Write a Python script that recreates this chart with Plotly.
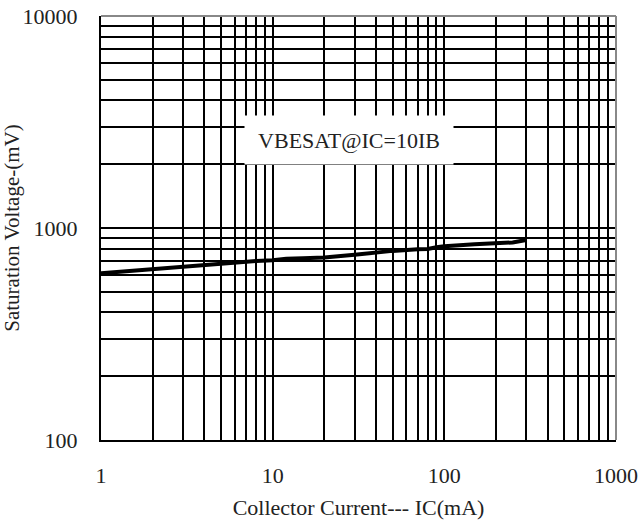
import math
import plotly.graph_objects as go

ic_ma = [1, 2, 3, 4, 5, 7, 8, 10, 12, 15, 20, 30, 40, 50, 70, 80, 90, 100, 150, 200, 250, 300]
vbesat_mv = [612, 640, 655, 672, 680, 693, 698, 705, 717, 720, 725, 748, 770, 780, 793, 797, 812, 820, 838, 852, 855, 878]

x_decades = [1, 10, 100, 1000]
y_decades = [100, 1000, 10000]
x_tickvals = [m * d for d in [1, 10, 100] for m in range(1, 10)] + [1000]
y_tickvals = [m * d for d in [100, 1000] for m in range(1, 10)] + [10000]
x_ticktext = [str(v) if v in x_decades else "" for v in x_tickvals]
y_ticktext = [str(v) if v in y_decades else "" for v in y_tickvals]

label_text = "VBESAT@IC=10IB"
label_x, label_y = 28, 2600

FONT = "Liberation Serif"

fig = go.Figure()
fig.add_trace(go.Scatter(x=ic_ma, y=vbesat_mv, mode="lines",
                         line=dict(color="black", width=4), showlegend=False,
                         hoverinfo="skip"))

fig.update_layout(
    width=640, height=530,
    margin=dict(l=101, r=24, t=16, b=90),
    paper_bgcolor="white", plot_bgcolor="white",
    font=dict(family=FONT, color="#222", size=22),
    xaxis=dict(type="log", range=[0, 3], tickvals=x_tickvals, ticktext=x_ticktext,
               showgrid=True, gridcolor="black", gridwidth=2, zeroline=False,
               showline=True, linecolor="black", linewidth=2, ticks="",
               ticklabelstandoff=15, automargin=False,
               tickfont=dict(size=22),
               title=dict(text="Collector Current--- IC(mA)", standoff=12,
                          font=dict(size=22))),
    yaxis=dict(type="log", range=[2, 4], tickvals=y_tickvals, ticktext=y_ticktext,
               showgrid=True, gridcolor="black", gridwidth=2, zeroline=False,
               showline=True, linecolor="black", linewidth=2, ticks="",
               ticklabelstandoff=17, automargin=False,
               tickfont=dict(size=22),
               title=dict(text="Saturation Voltage-(mV)", standoff=7,
                          font=dict(size=21))),
    annotations=[dict(x=math.log10(label_x), y=math.log10(label_y), xref="x", yref="y",
                      text=label_text, showarrow=False, bgcolor="white",
                      width=206, height=46,
                      font=dict(size=22, family=FONT, color="#222"))],
    shapes=[
        dict(type="line", xref="paper", yref="paper", x0=0, x1=1, y0=1, y1=1,
             line=dict(color="#888", width=2)),
        dict(type="line", xref="paper", yref="paper", x0=1, x1=1, y0=0, y1=1,
             line=dict(color="#888", width=2)),
    ],
)

fig.write_html("out.html", config={"displayModeBar": False},
               post_script="document.body.style.margin='0';document.body.style.overflow='hidden';")
